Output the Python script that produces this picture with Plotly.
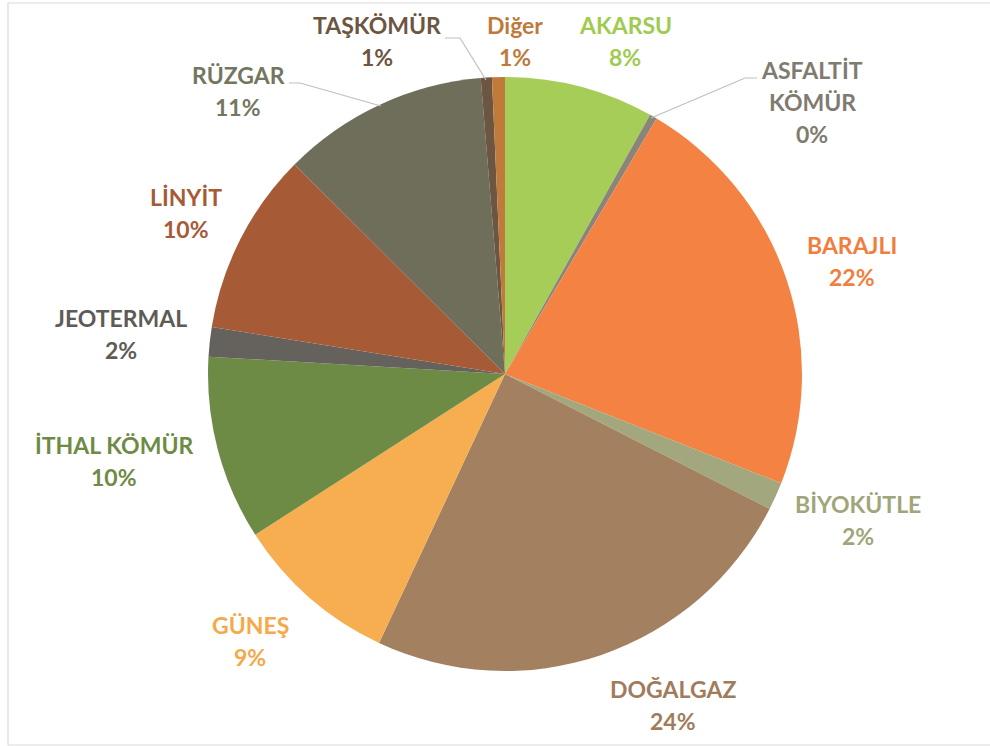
import plotly.graph_objects as go

# ---- data ----
categories = ["AKARSU", "ASFALTİT KÖMÜR", "BARAJLI", "BİYOKÜTLE", "DOĞALGAZ", "GÜNEŞ",
              "İTHAL KÖMÜR", "JEOTERMAL", "LİNYİT", "RÜZGAR", "TAŞKÖMÜR", "Diğer"]
values = [8.1, 0.4, 22.4, 1.5, 24.4, 8.9, 10.0, 1.6, 9.9, 11.2, 0.6, 0.7]

# ---- styles ----
slice_colors = ["#A6CD58", "#8A8578", "#F38243", "#A3A77E", "#A38060", "#F7AE50",
                "#6E8B45", "#65615C", "#A65A36", "#6F6E5A", "#6C5641", "#C07A3C"]
label_colors = ["#A0CB50", "#7F7B70", "#F07E3E", "#A0A57A", "#A07C5C", "#F5A94A",
                "#6E8B45", "#5E5B57", "#A65A36", "#747660", "#6C5641", "#BE7A3C"]
label_lines = [
    ["AKARSU"], ["ASFALTİT", "KÖMÜR"], ["BARAJLI"], ["BİYOKÜTLE"], ["DOĞALGAZ"], ["GÜNEŞ"],
    ["İTHAL KÖMÜR"], ["JEOTERMAL"], ["LİNYİT"], ["RÜZGAR"], ["TAŞKÖMÜR"], ["Diğer"],
]
# (center x px, first line y px)
label_pos = [(625, 25), (812, 70), (852, 245), (858, 504), (673, 689), (250, 625),
             (114, 445), (121, 318), (186, 197), (238, 75), (377, 25), (515, 25)]
LINE_GAP = 32

W, H = 990, 746
cx, cy, r = 505, 374, 297

fig = go.Figure(go.Pie(
    labels=categories, values=values, sort=False, direction="clockwise", rotation=0,
    marker=dict(colors=slice_colors, line=dict(width=0)),
    textinfo="none", hoverinfo="label+percent", showlegend=False,
    domain=dict(x=[(cx - r) / W, (cx + r) / W], y=[(H - cy - r) / H, (H - cy + r) / H]),
))

total = sum(values)
annotations = []
for cat, v, col, lines, (px, py) in zip(categories, values, label_colors, label_lines, label_pos):
    all_lines = lines + [f"{round(v / total * 100):.0f}%"]
    for i, t in enumerate(all_lines):
        annotations.append(dict(
            x=px / W, y=1 - (py + i * LINE_GAP) / H, xref="paper", yref="paper",
            text=f"<b>{t}</b>", showarrow=False, xanchor="center", yanchor="middle",
            font=dict(family="Lato", size=23, color=col),
        ))

def path(points):
    return "M " + " L ".join(f"{x / W},{1 - y / H}" for x, y in points)

leader_lines = [
    [(651, 118), (745, 78), (757, 78)],
    [(289, 83), (300, 83), (381, 106)],
    [(445, 38), (460, 38), (486, 80)],
]
shapes = [dict(type="path", xref="paper", yref="paper", path=path(p),
               line=dict(color="#BFBFBF", width=1.2)) for p in leader_lines]
shapes.append(dict(type="rect", xref="paper", yref="paper",
                   x0=8 / W, x1=1.2, y0=1 - 745 / H, y1=1 - 3 / H,
                   line=dict(color="#D9D9D9", width=1.2), fillcolor="rgba(0,0,0,0)"))

fig.update_layout(
    width=W, height=H, margin=dict(l=0, r=0, t=0, b=0),
    paper_bgcolor="white", plot_bgcolor="white",
    annotations=annotations, shapes=shapes,
)
fig.write_html("out.html", config={"displayModeBar": False},
               post_script="document.body.style.margin='0px';document.body.style.overflow='hidden';")
